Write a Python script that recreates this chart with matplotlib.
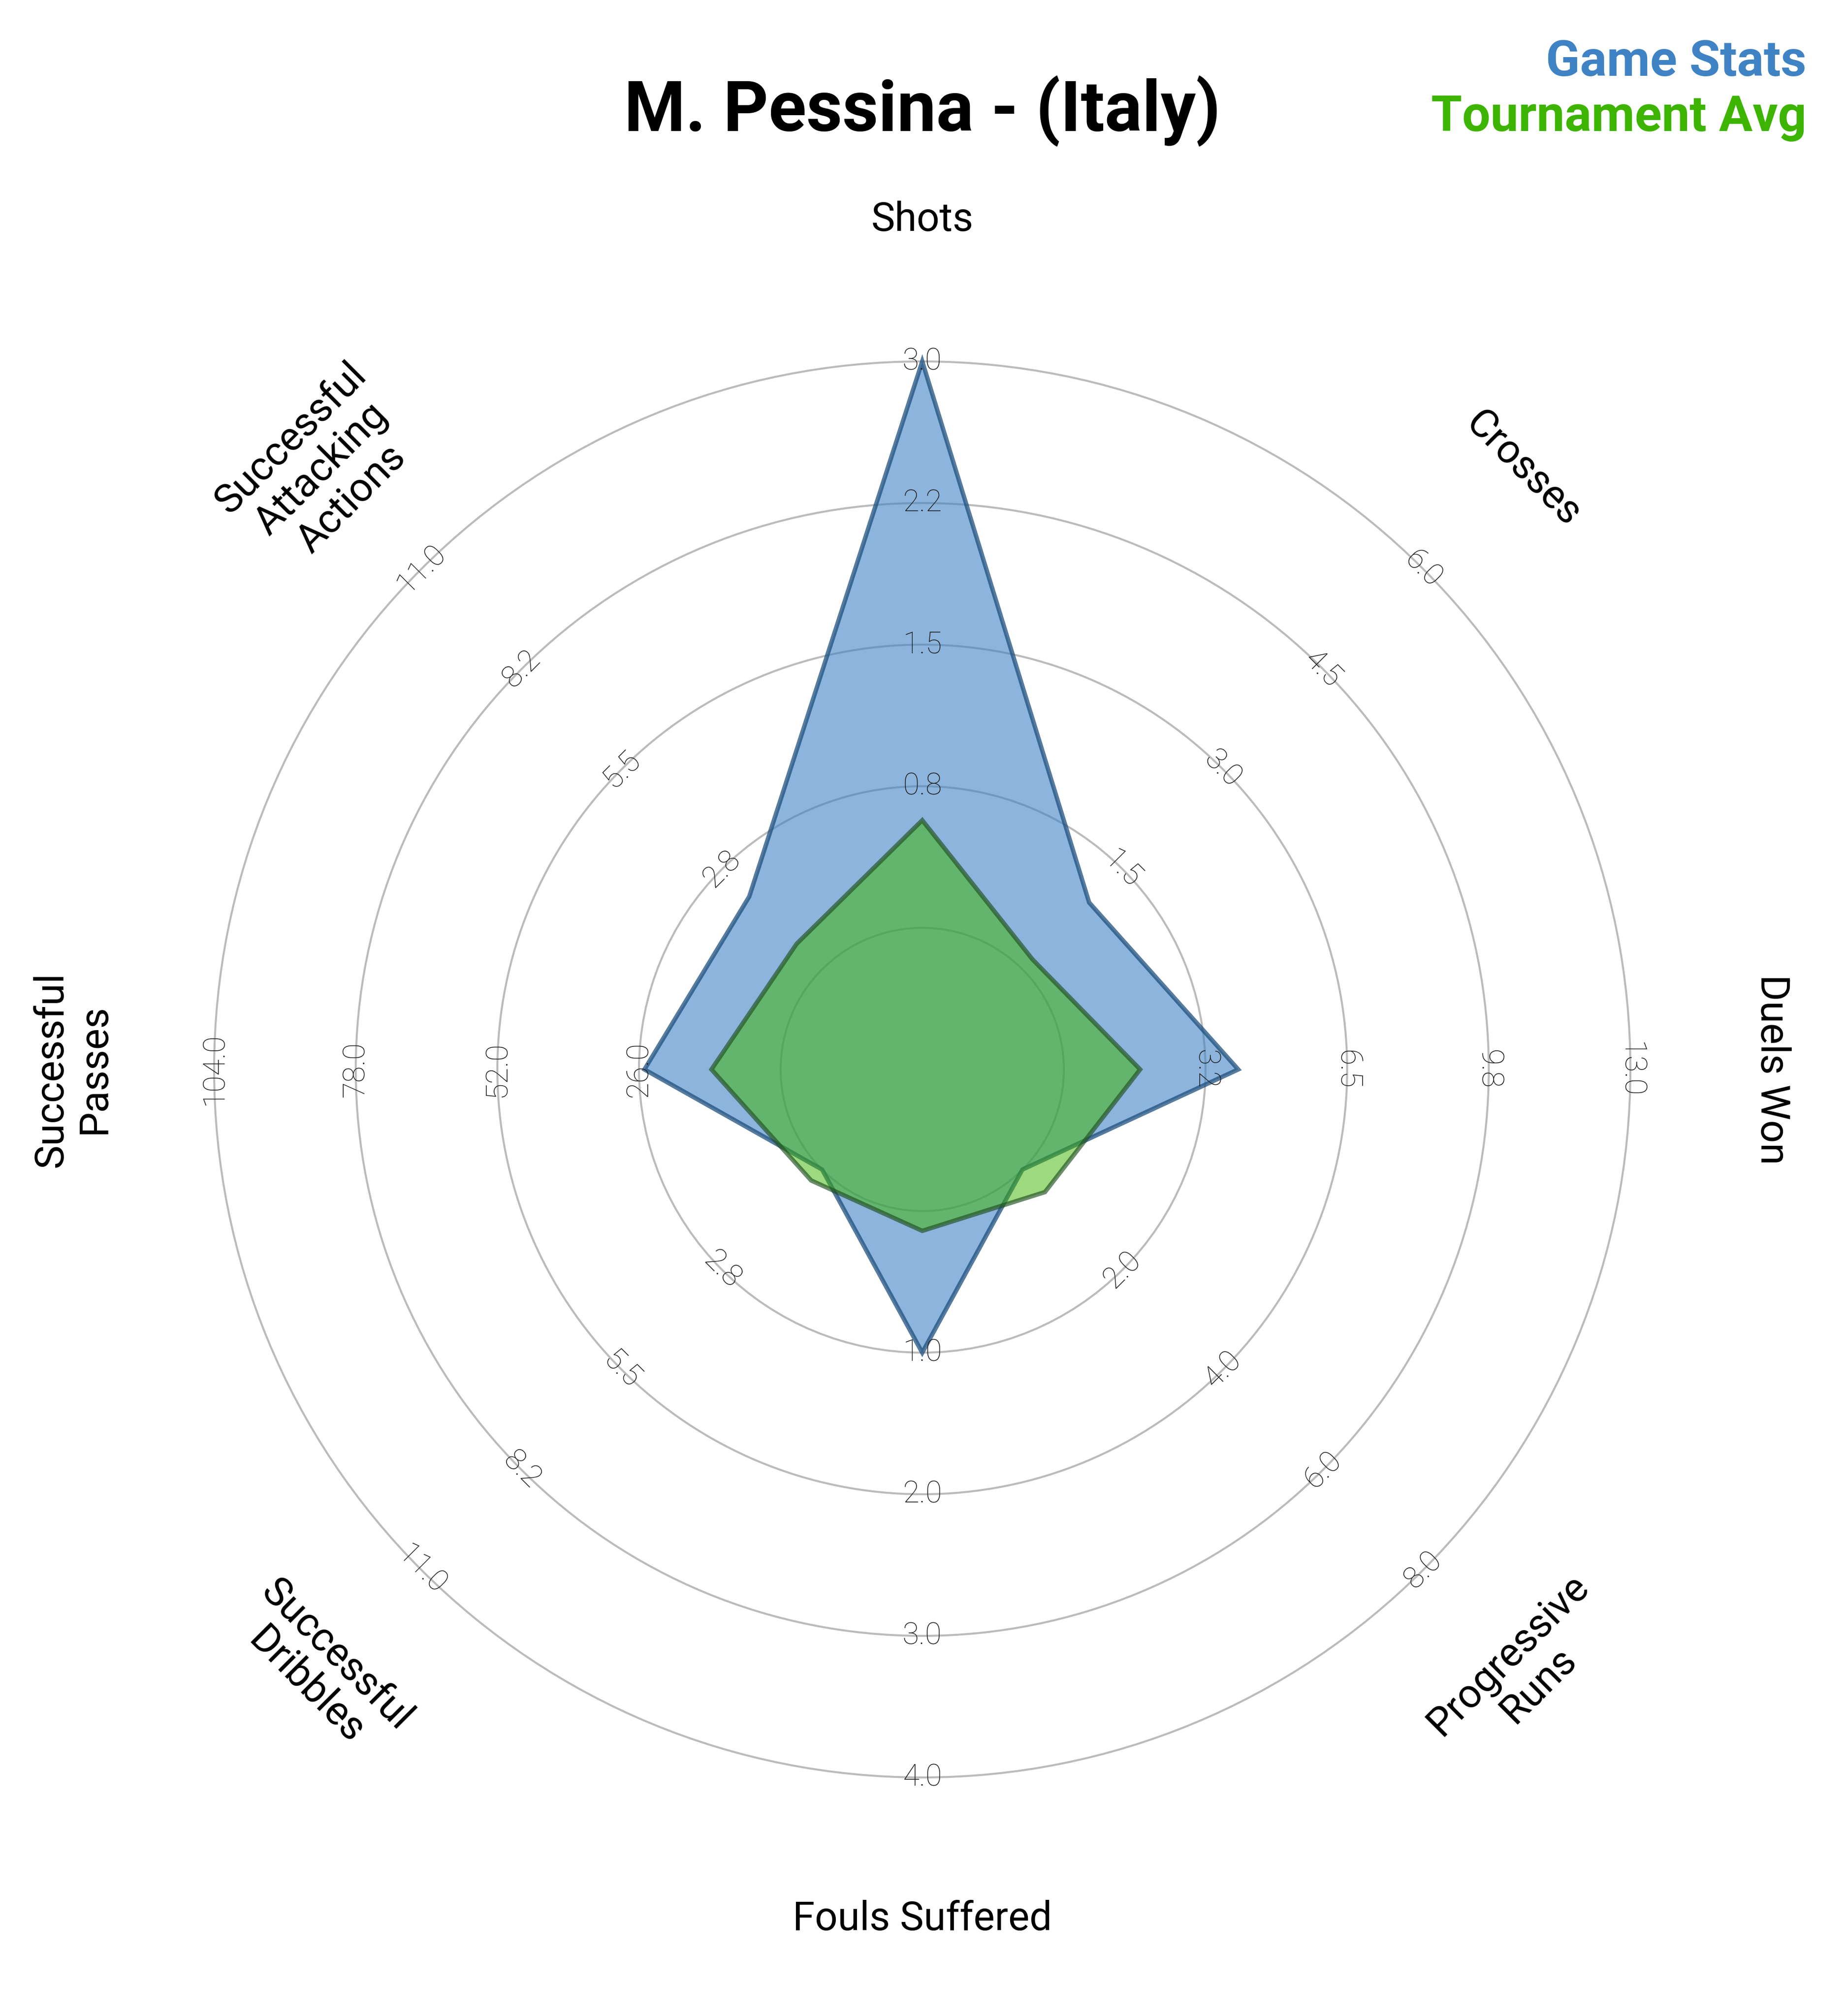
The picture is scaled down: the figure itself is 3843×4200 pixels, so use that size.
import numpy as np
import matplotlib.pyplot as plt
from matplotlib.patches import Circle, Polygon

plt.rcParams['font.family'] = ['Roboto', 'DejaVu Sans']

# radar data
params = ['Shots', 'Crosses', 'Duels Won', 'Progressive\nRuns', 'Fouls Suffered',
          'Successful\nDribbles', 'Successful\nPasses', 'Successful\nAttacking\nActions']
low = [0, 0, 0, 0, 0, 0, 0, 0]
high = [3, 6, 13, 8, 4, 11, 104, 11]
game_stats = [3, 1, 4, 0, 1, 0, 25, 2]
tournament_avg = [0.57, 0.15, 1.75, 0.45, 0.14, 0.30, 12.7, 0.70]

title = 'M. Pessina - (Italy)'
blue = '#3f83c5'
green = '#3cb400'

n = len(params)
angles = np.pi / 2 - np.arange(n) * 2 * np.pi / n
low = np.array(low, float)
high = np.array(high, float)


def to_xy(vals):
    # inner circle = radius 1, outer ring = radius 5
    r = 1 + 4 * (np.array(vals, float) - low) / (high - low)
    return np.column_stack([r * np.cos(angles), r * np.sin(angles)])


def text_rot(a):
    deg = (np.degrees(a) - 90 + 180) % 360 - 180
    if deg > 90:
        deg -= 180
    if deg < -90:
        deg += 180
    return deg


fig = plt.figure(figsize=(12.81, 14), dpi=300)
ax = fig.add_axes([0, 0, 1, 1])
ax.set_xlim(-1921 / 295, (3843 - 1921) / 295)
ax.set_ylim(-(4200 - 2228) / 295, 2228 / 295)
ax.axis('off')

# rings
for k in range(1, 6):
    ax.add_patch(Circle((0, 0), k, fill=False, ec='#bbbbbb', lw=1.0, zorder=1))

# radar polygons
ax.add_patch(Polygon(to_xy(game_stats), closed=True, fc=blue, alpha=0.6, ec='none', zorder=2))
ax.add_patch(Polygon(to_xy(game_stats), closed=True, fill=False, ec='#1f4f7c', alpha=0.75, lw=2.2, zorder=3))
ax.add_patch(Polygon(to_xy(tournament_avg), closed=True, fc=green, alpha=0.5, ec='none', zorder=4))
ax.add_patch(Polygon(to_xy(tournament_avg), closed=True, fill=False, ec='#1f4f1f', alpha=0.65, lw=2.2, zorder=5))

# ring value labels
for i, a in enumerate(angles):
    rot = text_rot(a)
    for k in range(1, 5):
        val = low[i] + (high[i] - low[i]) * k / 4
        r = k + 1
        ax.text(r * np.cos(a), r * np.sin(a), f'{val:.1f}', rotation=rot,
                ha='center', va='center', fontsize=15, fontweight=100,
                color='#222222', rotation_mode='anchor', zorder=6)

# parameter labels
for i, a in enumerate(angles):
    ax.text(6 * np.cos(a), 6 * np.sin(a), params[i], rotation=text_rot(a),
            ha='center', va='center', multialignment='center', fontsize=20,
            rotation_mode='anchor', linespacing=1.15, color='black')

fig.text(0.5, 1 - 273 / 4200, title, ha='center', va='baseline',
         fontsize=35, fontweight='bold')
fig.text(3763 / 3843, 1 - 158 / 4200, 'Game Stats', ha='right', va='baseline',
         fontsize=25, fontweight='bold', color=blue)
fig.text(3763 / 3843, 1 - 273 / 4200, 'Tournament Avg', ha='right', va='baseline',
         fontsize=25, fontweight='bold', color=green)

fig.savefig('out.png', dpi=300)
